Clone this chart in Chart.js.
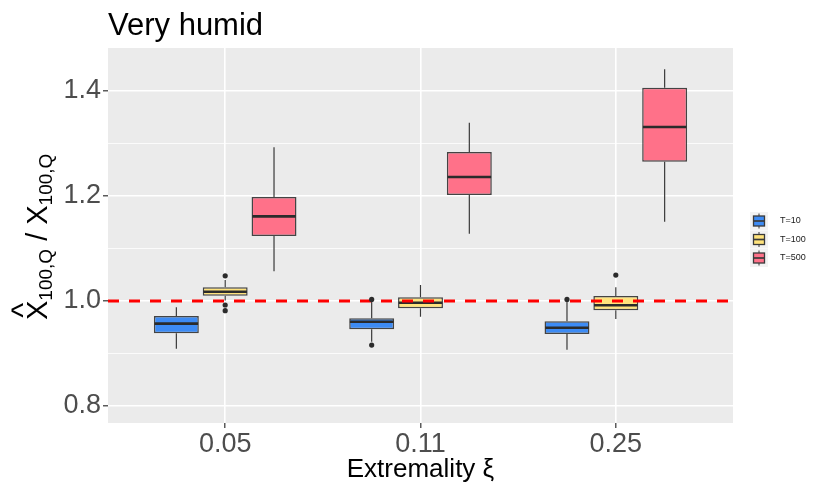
<!DOCTYPE html>
<html><head><meta charset="utf-8">
<script src="https://cdn.jsdelivr.net/npm/chart.js@4.4.1/dist/chart.umd.min.js"></script>
<style>html,body{margin:0;padding:0;background:#fff;}canvas{display:block;}</style>
</head><body>
<canvas id="c" width="814" height="488"></canvas>
<script>
// ---------------- data ----------------
const categories = ['0.05', '0.11', '0.25'];
const seriesNames = ['T=10', 'T=100', 'T=500'];
const yTicks = [0.8, 0.9, 1.0, 1.1, 1.2, 1.3, 1.4];
const yLabelTicks = [0.8, 1.0, 1.2, 1.4];
const referenceLine = 1.0;
const chartTitle = 'Very humid';
const xTitle = 'Extremality \u03BE';

// T=10 (blue)
const t10Low      = [0.909, 0.9225, 0.907];
const t10Q1       = [0.9385, 0.946, 0.937];
const t10Median   = [0.957, 0.9606, 0.949];
const t10Q3       = [0.9714, 0.967, 0.9613];
const t10High     = [0.988, 0.999, 0.999];
const t10Outliers = [[], [1.003, 0.916], [1.003]];

// T=100 (yellow)
const t100Low      = [1.001, 0.970, 0.9657];
const t100Q1       = [1.0101, 0.986, 0.9822];
const t100Median   = [1.0177, 0.9968, 0.9918];
const t100Q3       = [1.0261, 1.007, 1.0095];
const t100High     = [1.040, 1.0305, 1.026];
const t100Outliers = [[1.048, 0.9924, 0.9815], [], [1.0495]];

// T=500 (pink)
const t500Low      = [1.0566, 1.1282, 1.151];
const t500Q1       = [1.1238, 1.2019, 1.2653];
const t500Median   = [1.1613, 1.2362, 1.3314];
const t500Q3       = [1.198, 1.2838, 1.4063];
const t500High     = [1.2928, 1.3396, 1.4413];
const t500Outliers = [[], [], []];

// ---------------- styling ----------------
const fillColors = ['#3D8BF4', '#FFE37C', '#FF7189'];
const FONT = '"Liberation Sans", Arial, Helvetica, sans-serif';

const series = [
  {name: seriesNames[0], low: t10Low, q1: t10Q1, med: t10Median, q3: t10Q3, high: t10High, out: t10Outliers, color: fillColors[0]},
  {name: seriesNames[1], low: t100Low, q1: t100Q1, med: t100Median, q3: t100Q3, high: t100High, out: t100Outliers, color: fillColors[1]},
  {name: seriesNames[2], low: t500Low, q1: t500Q1, med: t500Median, q3: t500Q3, high: t500High, out: t500Outliers, color: fillColors[2]}
];

const isMajor = v => yLabelTicks.some(t => Math.abs(t - v) < 1e-6);

const boxParts = {
  id: 'boxParts',
  beforeDraw(chart) {
    const {ctx, chartArea: a} = chart;
    ctx.save();
    ctx.fillStyle = '#EBEBEB';
    ctx.fillRect(a.left, a.top, a.right - a.left, a.bottom - a.top);
    ctx.restore();
  },
  beforeDatasetsDraw(chart) {
    const {ctx} = chart;
    const y = chart.scales.y;
    ctx.save();
    ctx.strokeStyle = '#3a3a3a';
    ctx.lineWidth = 1.2;
    series.forEach((s, d) => {
      const meta = chart.getDatasetMeta(d);
      meta.data.forEach((el, i) => {
        ctx.beginPath();
        ctx.moveTo(el.x, y.getPixelForValue(s.high[i]));
        ctx.lineTo(el.x, y.getPixelForValue(s.q3[i]));
        ctx.moveTo(el.x, y.getPixelForValue(s.q1[i]));
        ctx.lineTo(el.x, y.getPixelForValue(s.low[i]));
        ctx.stroke();
      });
    });
    ctx.restore();
  },
  afterDatasetsDraw(chart) {
    const {ctx, chartArea: a} = chart;
    const y = chart.scales.y;
    ctx.save();
    // medians
    ctx.strokeStyle = '#2b2b2b';
    ctx.lineWidth = 2.6;
    series.forEach((s, d) => {
      const meta = chart.getDatasetMeta(d);
      meta.data.forEach((el, i) => {
        const py = y.getPixelForValue(s.med[i]);
        ctx.beginPath();
        ctx.moveTo(el.x - el.width / 2 + 0.7, py);
        ctx.lineTo(el.x + el.width / 2 - 0.7, py);
        ctx.stroke();
      });
    });
    // reference line
    const ry = y.getPixelForValue(referenceLine);
    ctx.strokeStyle = '#FF0000';
    ctx.lineWidth = 3;
    ctx.setLineDash([11, 10]);
    ctx.beginPath();
    ctx.moveTo(a.left, ry);
    ctx.lineTo(a.right, ry);
    ctx.stroke();
    ctx.setLineDash([]);
    // outliers
    ctx.fillStyle = '#2b2b2b';
    series.forEach((s, d) => {
      const meta = chart.getDatasetMeta(d);
      meta.data.forEach((el, i) => {
        s.out[i].forEach(v => {
          ctx.beginPath();
          ctx.arc(el.x, y.getPixelForValue(v), 2.6, 0, Math.PI * 2);
          ctx.fill();
        });
      });
    });
    ctx.restore();
  },
  afterDraw(chart) {
    const {ctx, chartArea: a} = chart;
    ctx.save();
    // title
    ctx.fillStyle = '#000';
    ctx.font = '31px ' + FONT;
    ctx.textBaseline = 'alphabetic';
    ctx.textAlign = 'left';
    ctx.fillText(chartTitle, a.left, 35);

    // y-axis title:  X^_{100,Q} / X_{100,Q}
    const big = '29px ' + FONT, small = '19px ' + FONT;
    ctx.translate(47, 320);
    ctx.rotate(-Math.PI / 2);
    let cx = 0;
    ctx.font = big;
    const wX = ctx.measureText('X').width;
    ctx.fillText('X', cx, 0);
    ctx.textAlign = 'center';
    ctx.font = '32px ' + FONT;
    ctx.fillText('^', cx + wX / 2, -14);
    ctx.textAlign = 'left';
    cx += wX;
    ctx.font = small;
    ctx.fillText('100,Q', cx, 5);
    cx += ctx.measureText('100,Q').width;
    ctx.font = big;
    ctx.fillText(' / ', cx, 0);
    cx += ctx.measureText(' / ').width;
    ctx.fillText('X', cx, 0);
    cx += wX;
    ctx.font = small;
    ctx.fillText('100,Q', cx, 5);
    ctx.setTransform(1, 0, 0, 1, 0, 0);

    // legend
    const centers = [221, 239.5, 258];
    series.forEach((s, k) => {
      const cy = centers[k];
      const kx = 759;
      ctx.fillStyle = '#F2F2F2';
      ctx.fillRect(750, cy - 9, 18, 18);
      ctx.strokeStyle = '#3a3a3a';
      ctx.lineWidth = 1;
      ctx.beginPath();
      ctx.moveTo(kx, cy - 7.5); ctx.lineTo(kx, cy + 7.5);
      ctx.stroke();
      ctx.fillStyle = s.color;
      ctx.fillRect(753.5, cy - 5, 11, 10);
      ctx.lineWidth = 1.3;
      ctx.strokeRect(753.5, cy - 5, 11, 10);
      ctx.lineWidth = 1.7;
      ctx.beginPath();
      ctx.moveTo(753.5, cy); ctx.lineTo(764.5, cy);
      ctx.stroke();
      ctx.fillStyle = '#1a1a1a';
      ctx.font = '9px ' + FONT;
      ctx.textBaseline = 'middle';
      ctx.textAlign = 'left';
      ctx.fillText(s.name, 780, cy);
    });
    ctx.restore();
  }
};

new Chart(document.getElementById('c'), {
  type: 'bar',
  data: {
    datasets: series.map(s => ({
      label: s.name,
      data: categories.map((c, i) => ({x: i + 1, y: [s.q1[i], s.q3[i]]})),
      backgroundColor: s.color,
      borderColor: 'rgba(50,50,50,0.9)',
      borderWidth: 1.5,
      borderSkipped: false,
      categoryPercentage: 0.75,
      barPercentage: 0.92
    }))
  },
  options: {
    responsive: false,
    animation: false,
    devicePixelRatio: 1,
    layout: {padding: {left: 0, top: 48, right: 81, bottom: 0}},
    plugins: {legend: {display: false}, tooltip: {enabled: false}, title: {display: false}},
    scales: {
      x: {
        type: 'linear',
        min: 0.4, max: 3.6,
        offset: false,
        afterBuildTicks: axis => { axis.ticks = categories.map((c, i) => ({value: i + 1})); },
        afterFit: axis => { axis.height = 65; },
        ticks: {
          autoSkip: false, maxRotation: 0, padding: 0,
          color: '#4D4D4D', font: {family: FONT, size: 27},
          callback: v => categories[Math.round(v) - 1]
        },
        grid: {color: '#FFFFFF', lineWidth: 1.6, offset: false, drawTicks: true, tickLength: 5, tickColor: '#333333', tickWidth: 1.2},
        border: {display: false},
        title: {display: true, text: xTitle, color: '#000', font: {family: FONT, size: 26, lineHeight: 1.2}, padding: {top: 0, bottom: 3}}
      },
      y: {
        type: 'linear',
        min: 0.7676, max: 1.482,
        beginAtZero: false,
        afterBuildTicks: axis => { axis.ticks = yTicks.map(v => ({value: v})); },
        afterFit: axis => { axis.width = 108; },
        ticks: {
          autoSkip: false, padding: 2,
          color: '#4D4D4D', font: {family: FONT, size: 27},
          callback: v => isMajor(v) ? v.toFixed(1) : ''
        },
        grid: {
          color: '#FFFFFF',
          lineWidth: c => (c.tick && isMajor(c.tick.value)) ? 1.6 : 0.8,
          drawTicks: true, tickLength: 5,
          tickColor: c => (c.tick && isMajor(c.tick.value)) ? '#333333' : 'rgba(0,0,0,0)',
          tickWidth: 1.2
        },
        border: {display: false}
      }
    }
  },
  plugins: [boxParts]
});
</script>
</body></html>
